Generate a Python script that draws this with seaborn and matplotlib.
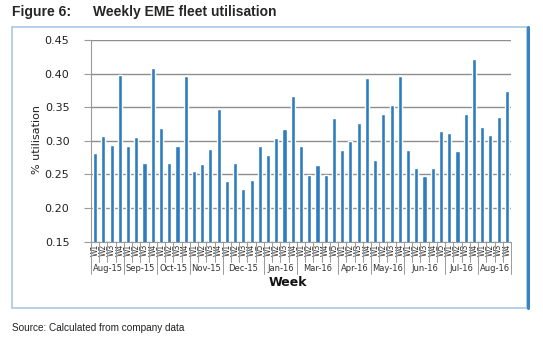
import matplotlib
matplotlib.use("Agg")
import matplotlib.pyplot as plt
import matplotlib.patches as mpatches
import matplotlib.lines as mlines
import seaborn as sns
import pandas as pd
import numpy as np

months = ["Aug-15", "Sep-15", "Oct-15", "Nov-15", "Dec-15", "Jan-16",
          "Mar-16", "Apr-16", "May-16", "Jun-16", "Jul-16", "Aug-16"]
weeks_per_month = [4, 4, 4, 4, 5, 4, 5, 4, 4, 5, 4, 4]
values = [0.282, 0.307, 0.294, 0.398,
          0.293, 0.305, 0.267, 0.409,
          0.319, 0.267, 0.293, 0.396,
          0.255, 0.265, 0.288, 0.347,
          0.241, 0.267, 0.229, 0.242, 0.292,
          0.279, 0.304, 0.317, 0.367,
          0.292, 0.249, 0.264, 0.249, 0.334,
          0.287, 0.300, 0.326, 0.393,
          0.272, 0.340, 0.353, 0.396,
          0.287, 0.259, 0.247, 0.259, 0.314,
          0.311, 0.285, 0.340, 0.421,
          0.320, 0.308, 0.335, 0.374]
yticks = [0.15, 0.20, 0.25, 0.30, 0.35, 0.40, 0.45]

week_labels = []
keys = []
for m, n in zip(months, weeks_per_month):
    for w in range(1, n + 1):
        week_labels.append(f"W{w}")
        keys.append(f"{m} W{w}")
df = pd.DataFrame({"key": keys, "value": values})

sns.set_style("white")
plt.rcParams['font.family'] = ['DejaVu Sans']

W, H = 543, 338
fig = plt.figure(figsize=(W / 100, H / 100), dpi=100)
ax = fig.add_axes([91 / W, 1 - 241.7 / H, (511 - 91) / W, (241.7 - 40) / H])

sns.barplot(data=df, x="key", y="value", color="#2f7dbf", width=0.5,
            saturation=1, ax=ax, zorder=3)

ax.set_ylim(0.15, 0.45)
ax.set_yticks(yticks)
ax.set_yticklabels([f"{v:.2f}" for v in yticks], fontsize=8, color="#222222")
ax.set_xlim(-0.5, len(values) - 0.5)
ax.grid(axis="y", color="#8e8e8e", linewidth=1.0, linestyle="-", zorder=0)
ax.grid(axis="x", visible=False)
ax.set_axisbelow(True)
for s in ["top", "right"]:
    ax.spines[s].set_visible(False)
ax.spines["left"].set_color("#9a9a9a")
ax.spines["bottom"].set_color("#9a9a9a")
ax.tick_params(axis="y", length=5, color="#9a9a9a", pad=10.5, left=True)
ax.set_xticks(range(len(values)))
ax.set_xticklabels(week_labels, rotation=90, fontsize=5.5, color="#333333")
ax.tick_params(axis="x", length=0, pad=1.5)
ax.set_xlabel("")
ax.set_ylabel("")
fig.text(37 / W, 1 - 140 / H, "% utilisation", rotation=90, fontsize=8,
         ha="center", va="center", color="#222222")

def ypix(p):
    return 1 - p / H

def xdata_to_fig(x):
    disp = ax.transData.transform((x, 0.15))
    return fig.transFigure.inverted().transform(disp)[0]

start = 0
bounds = [0]
for n in weeks_per_month:
    start += n
    bounds.append(start)
for i in range(len(values) + 1):
    xf = xdata_to_fig(i - 0.5)
    y2 = 274 if i in bounds else 262
    fig.add_artist(mlines.Line2D([xf, xf], [ypix(241.7), ypix(y2)],
                                 color="#9a9a9a", linewidth=0.7))
for k, m in enumerate(months):
    c = (bounds[k] + bounds[k + 1] - 1) / 2
    fig.text(xdata_to_fig(c), ypix(268.5), m, ha="center", va="center",
             fontsize=6, color="#333333")

fig.text(288 / W, ypix(283), "Week", ha="center", va="center",
         fontsize=9, fontweight="bold", color="#111111")

# frame box
fig.add_artist(mpatches.Rectangle((12 / W, ypix(308)), (527 - 12) / W,
                                  (308 - 26.5) / H, transform=fig.transFigure,
                                  fill=False, edgecolor="#a9c9e2", linewidth=1.2))
fig.add_artist(mlines.Line2D([527.5 / W, 527.5 / W], [ypix(26.5), ypix(308)],
                             color="#3b82c4", linewidth=2.2))

fig.text(12 / W, ypix(12), "Figure 6:", fontsize=10, fontweight="bold",
         family="Liberation Sans", va="center", ha="left")
fig.text(93 / W, ypix(12), "Weekly EME fleet utilisation", fontsize=10,
         fontweight="bold", family="Liberation Sans", va="center", ha="left")
fig.text(12 / W, ypix(328), "Source: Calculated from company data",
         fontsize=7.2, family="Liberation Sans", va="center", ha="left",
         color="#222222")

fig.savefig("out.png", dpi=100)
